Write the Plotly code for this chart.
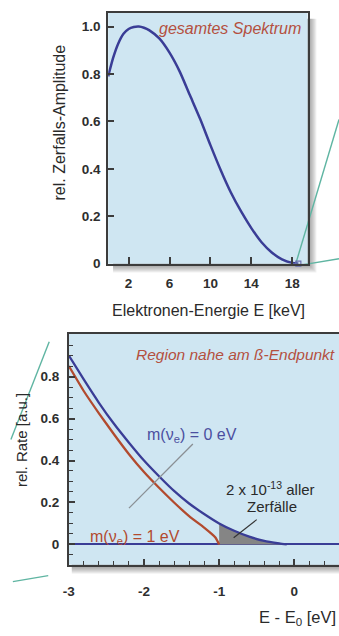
import plotly.graph_objects as go

W, H = 339, 636

# --- full tritium beta spectrum (keV) ---
spec_energy = [0, 0.5, 1, 1.5, 2, 2.5, 3, 3.5, 4, 5, 6, 7, 8, 9, 10, 11, 12, 13, 14, 15, 16, 17, 18, 18.6]
spec_amp = [0.79, 0.87, 0.93, 0.97, 0.99, 0.998, 1.0, 0.995, 0.985, 0.95, 0.89, 0.81, 0.71, 0.61, 0.50,
            0.395, 0.30, 0.22, 0.15, 0.09, 0.047, 0.018, 0.003, 0.0]
endpoint_keV = [18.6]
endpoint_amp = [0.0]

# --- region near the endpoint (E - E0 in eV) ---
edge_x_m0 = [-3.0, -2.8, -2.6, -2.4, -2.2, -2.0, -1.8, -1.6, -1.4, -1.2, -1.0, -0.8, -0.6, -0.4, -0.2, -0.1]
rate_m0 = [0.90, 0.785, 0.675, 0.575, 0.485, 0.40, 0.325, 0.255, 0.195, 0.145, 0.10, 0.065, 0.037, 0.017, 0.005, 0.0]
edge_x_m1 = [-3.0, -2.8, -2.6, -2.4, -2.2, -2.0, -1.8, -1.6, -1.4, -1.2, -1.1, -1.05, -1.0]
rate_m1 = [0.85, 0.73, 0.625, 0.525, 0.43, 0.345, 0.27, 0.20, 0.135, 0.08, 0.05, 0.033, 0.0]
shade_from = -1.0

top_xticks = [2, 6, 10, 14, 18]
top_yticks = [0, 0.2, 0.4, 0.6, 0.8, 1.0]
top_yticktext = ["0", "0.2", "0.4", "0.6", "0.8", "1.0"]
bot_xticks = [-3, -2, -1, 0]
bot_xticktext = ["-3", "-2", "-1", "0"]
bot_yticks = [0, 0.2, 0.4, 0.6, 0.8]
bot_yticktext = ["0", "0.2", "0.4", "0.6", "0.8"]

BLUE = "#3a3d96"
RED = "#b24a2e"
TXT_RED = "#b4503f"
AXIS = "#3c3c3c"
BG = "#cfe6f2"
TEAL = "#5fb5a2"
INK = "#2a2a2a"
FONT = "Liberation Sans, Arial, sans-serif"


def px(x):
    return x / W


def py(y):
    return 1 - y / H


# panel boxes in pixels (left, top, right, bottom)
TOP = (104, 13, 307, 267)
BOT = (64, 338, 339, 572)

shade_x = [x for x in edge_x_m0 if x >= shade_from]
shade_y = [r for x, r in zip(edge_x_m0, rate_m0) if x >= shade_from]

fig = go.Figure()

fig.add_trace(go.Scatter(x=spec_energy, y=spec_amp, mode="lines",
                         line=dict(color=BLUE, width=2.5, shape="spline", smoothing=0.6),
                         xaxis="x", yaxis="y", cliponaxis=True))
fig.add_trace(go.Scatter(x=endpoint_keV, y=endpoint_amp, mode="markers",
                         marker=dict(symbol="square-open", size=5, color="#6b6fb0", line=dict(width=1.2)),
                         xaxis="x", yaxis="y", cliponaxis=False))

fig.add_trace(go.Scatter(x=shade_x, y=shade_y, mode="lines", fill="tozeroy",
                         fillcolor="#858585", line=dict(width=0, shape="spline"),
                         xaxis="x2", yaxis="y2"))
fig.add_trace(go.Scatter(x=edge_x_m1, y=rate_m1, mode="lines",
                         line=dict(color=RED, width=2.3, shape="spline", smoothing=0.5),
                         xaxis="x2", yaxis="y2"))
fig.add_trace(go.Scatter(x=edge_x_m0, y=rate_m0, mode="lines",
                         line=dict(color=BLUE, width=2.3, shape="spline", smoothing=0.5),
                         xaxis="x2", yaxis="y2"))

shapes = []


def shadow(box, dx, dy, n=9):
    l, t, r, b = box
    for k in range(1, n + 1):
        shapes.append(dict(type="rect", xref="paper", yref="paper", layer="below",
                           x0=px(l + dx), x1=px(min(r + k, W)), y0=py(t + dy), y1=py(b + k),
                           fillcolor="rgba(60,60,60,0.07)", line=dict(width=0)))


shadow(TOP, 5, 6)
shadow(BOT, 3, 6)
for box in (TOP, BOT):
    l, t, r, b = box
    shapes.append(dict(type="rect", xref="paper", yref="paper", layer="below",
                       x0=px(l), x1=px(r), y0=py(t), y1=py(b),
                       fillcolor=BG, line=dict(width=0)))

# connector lines between the two panels
for (x0, y0, x1, y1) in [(295, 267, 339, 121), (303, 268, 339, 262), (44, 346, 5, 445), (7, 589, 43, 583)]:
    shapes.append(dict(type="line", xref="paper", yref="paper", layer="below",
                       x0=px(x0), y0=py(y0), x1=px(x1), y1=py(y1),
                       line=dict(color=TEAL, width=1.4)))

# leader lines in the endpoint panel
shapes.append(dict(type="line", xref="x2", yref="y2", x0=-1.35, y0=0.479, x1=-2.20, y1=0.173,
                   line=dict(color="#8a8f94", width=1.3)))
shapes.append(dict(type="line", xref="x2", yref="y2", x0=-0.50, y0=0.118, x1=-0.807, y1=0.032,
                   line=dict(color="#333333", width=1.1)))

annotations = [
    dict(text="<i>gesamtes Spektrum</i>", xref="paper", yref="paper", x=px(302), y=py(29),
         xanchor="right", yanchor="middle", showarrow=False, font=dict(size=16, color=TXT_RED)),
    dict(text="rel. Zerfalls-Amplitude", xref="paper", yref="paper", x=px(54), y=py(124),
         textangle=-90, xanchor="center", yanchor="middle", showarrow=False,
         font=dict(size=16, color=INK)),
    dict(text="Elektronen-Energie E [keV]", xref="paper", yref="paper", x=px(206), y=py(314),
         xanchor="center", yanchor="middle", showarrow=False, font=dict(size=16, color=INK)),
    dict(text="<i>Region nahe am ß-Endpunkt</i>", xref="paper", yref="paper", x=px(337), y=py(359),
         xanchor="right", yanchor="middle", showarrow=False, font=dict(size=15.5, color=TXT_RED)),
    dict(text="rel. Rate [a.u.]", xref="paper", yref="paper", x=px(16), y=py(446),
         textangle=-90, xanchor="center", yanchor="middle", showarrow=False,
         font=dict(size=15, color=INK)),
    dict(text="E - E<sub>0</sub> [eV]", xref="paper", yref="paper", x=px(338), y=py(626),
         xanchor="right", yanchor="middle", showarrow=False, font=dict(size=16.5, color=INK)),
    dict(text="m(ν<sub>e</sub>) = 0 eV", xref="x2", yref="y2", x=-1.36, y=0.52,
         xanchor="center", yanchor="middle", showarrow=False, font=dict(size=16, color="#4b4fa0")),
    dict(text="m(ν<sub>e</sub>) = 1 eV", xref="x2", yref="y2", x=-2.12, y=0.035,
         xanchor="center", yanchor="middle", showarrow=False, font=dict(size=16, color=RED)),
    dict(text="2 x 10<sup>-13</sup> aller", xref="x2", yref="y2", x=-0.314, y=0.266,
         xanchor="center", yanchor="middle", showarrow=False, font=dict(size=15, color=INK)),
    dict(text="Zerfälle", xref="x2", yref="y2", x=-0.294, y=0.18,
         xanchor="center", yanchor="middle", showarrow=False, font=dict(size=15, color=INK)),
]

tickfont = dict(family=FONT, size=13.5, color="#2e2e2e", weight="bold")
axis_common = dict(showline=True, linecolor=AXIS, linewidth=2, ticks="inside", tickcolor=AXIS,
                   tickwidth=1.5, showgrid=False, tickfont=tickfont, fixedrange=True)

fig.update_layout(
    width=W, height=H, margin=dict(l=0, r=0, t=0, b=0),
    paper_bgcolor="white", plot_bgcolor="rgba(0,0,0,0)",
    font=dict(family=FONT), showlegend=False,
    xaxis=dict(domain=[px(TOP[0]), px(TOP[2])], range=[0, 19.5], anchor="y",
               tickvals=top_xticks, ticklen=7, mirror=True, zeroline=False,
               ticklabelstandoff=6, **axis_common),
    yaxis=dict(domain=[py(TOP[3]), py(TOP[1])], range=[0, 1.058], anchor="x",
               tickvals=top_yticks, ticktext=top_yticktext, ticklen=6, mirror=True, zeroline=False,
               ticklabelstandoff=3, **axis_common),
    xaxis2=dict(domain=[px(BOT[0]), 1.0], range=[-3.0, 0.595], anchor="y2",
                tickvals=bot_xticks, ticktext=bot_xticktext, ticklen=6, mirror=True, zeroline=False,
                ticklabelstandoff=13,
                minor=dict(dtick=0.2, tick0=0, ticks="inside", ticklen=4, tickcolor=AXIS, tickwidth=1.2),
                **axis_common),
    yaxis2=dict(domain=[py(BOT[3]), py(BOT[1])], range=[-0.097, 1.004], anchor="x2",
                tickvals=bot_yticks, ticktext=bot_yticktext, ticklen=6, mirror=False,
                ticklabelstandoff=5,
                minor=dict(dtick=0.05, tick0=0, ticks="inside", ticklen=4, tickcolor=AXIS, tickwidth=1.2),
                zeroline=True, zerolinecolor=BLUE, zerolinewidth=2, **axis_common),
    shapes=shapes, annotations=annotations,
)

fig.write_html("out.html")
